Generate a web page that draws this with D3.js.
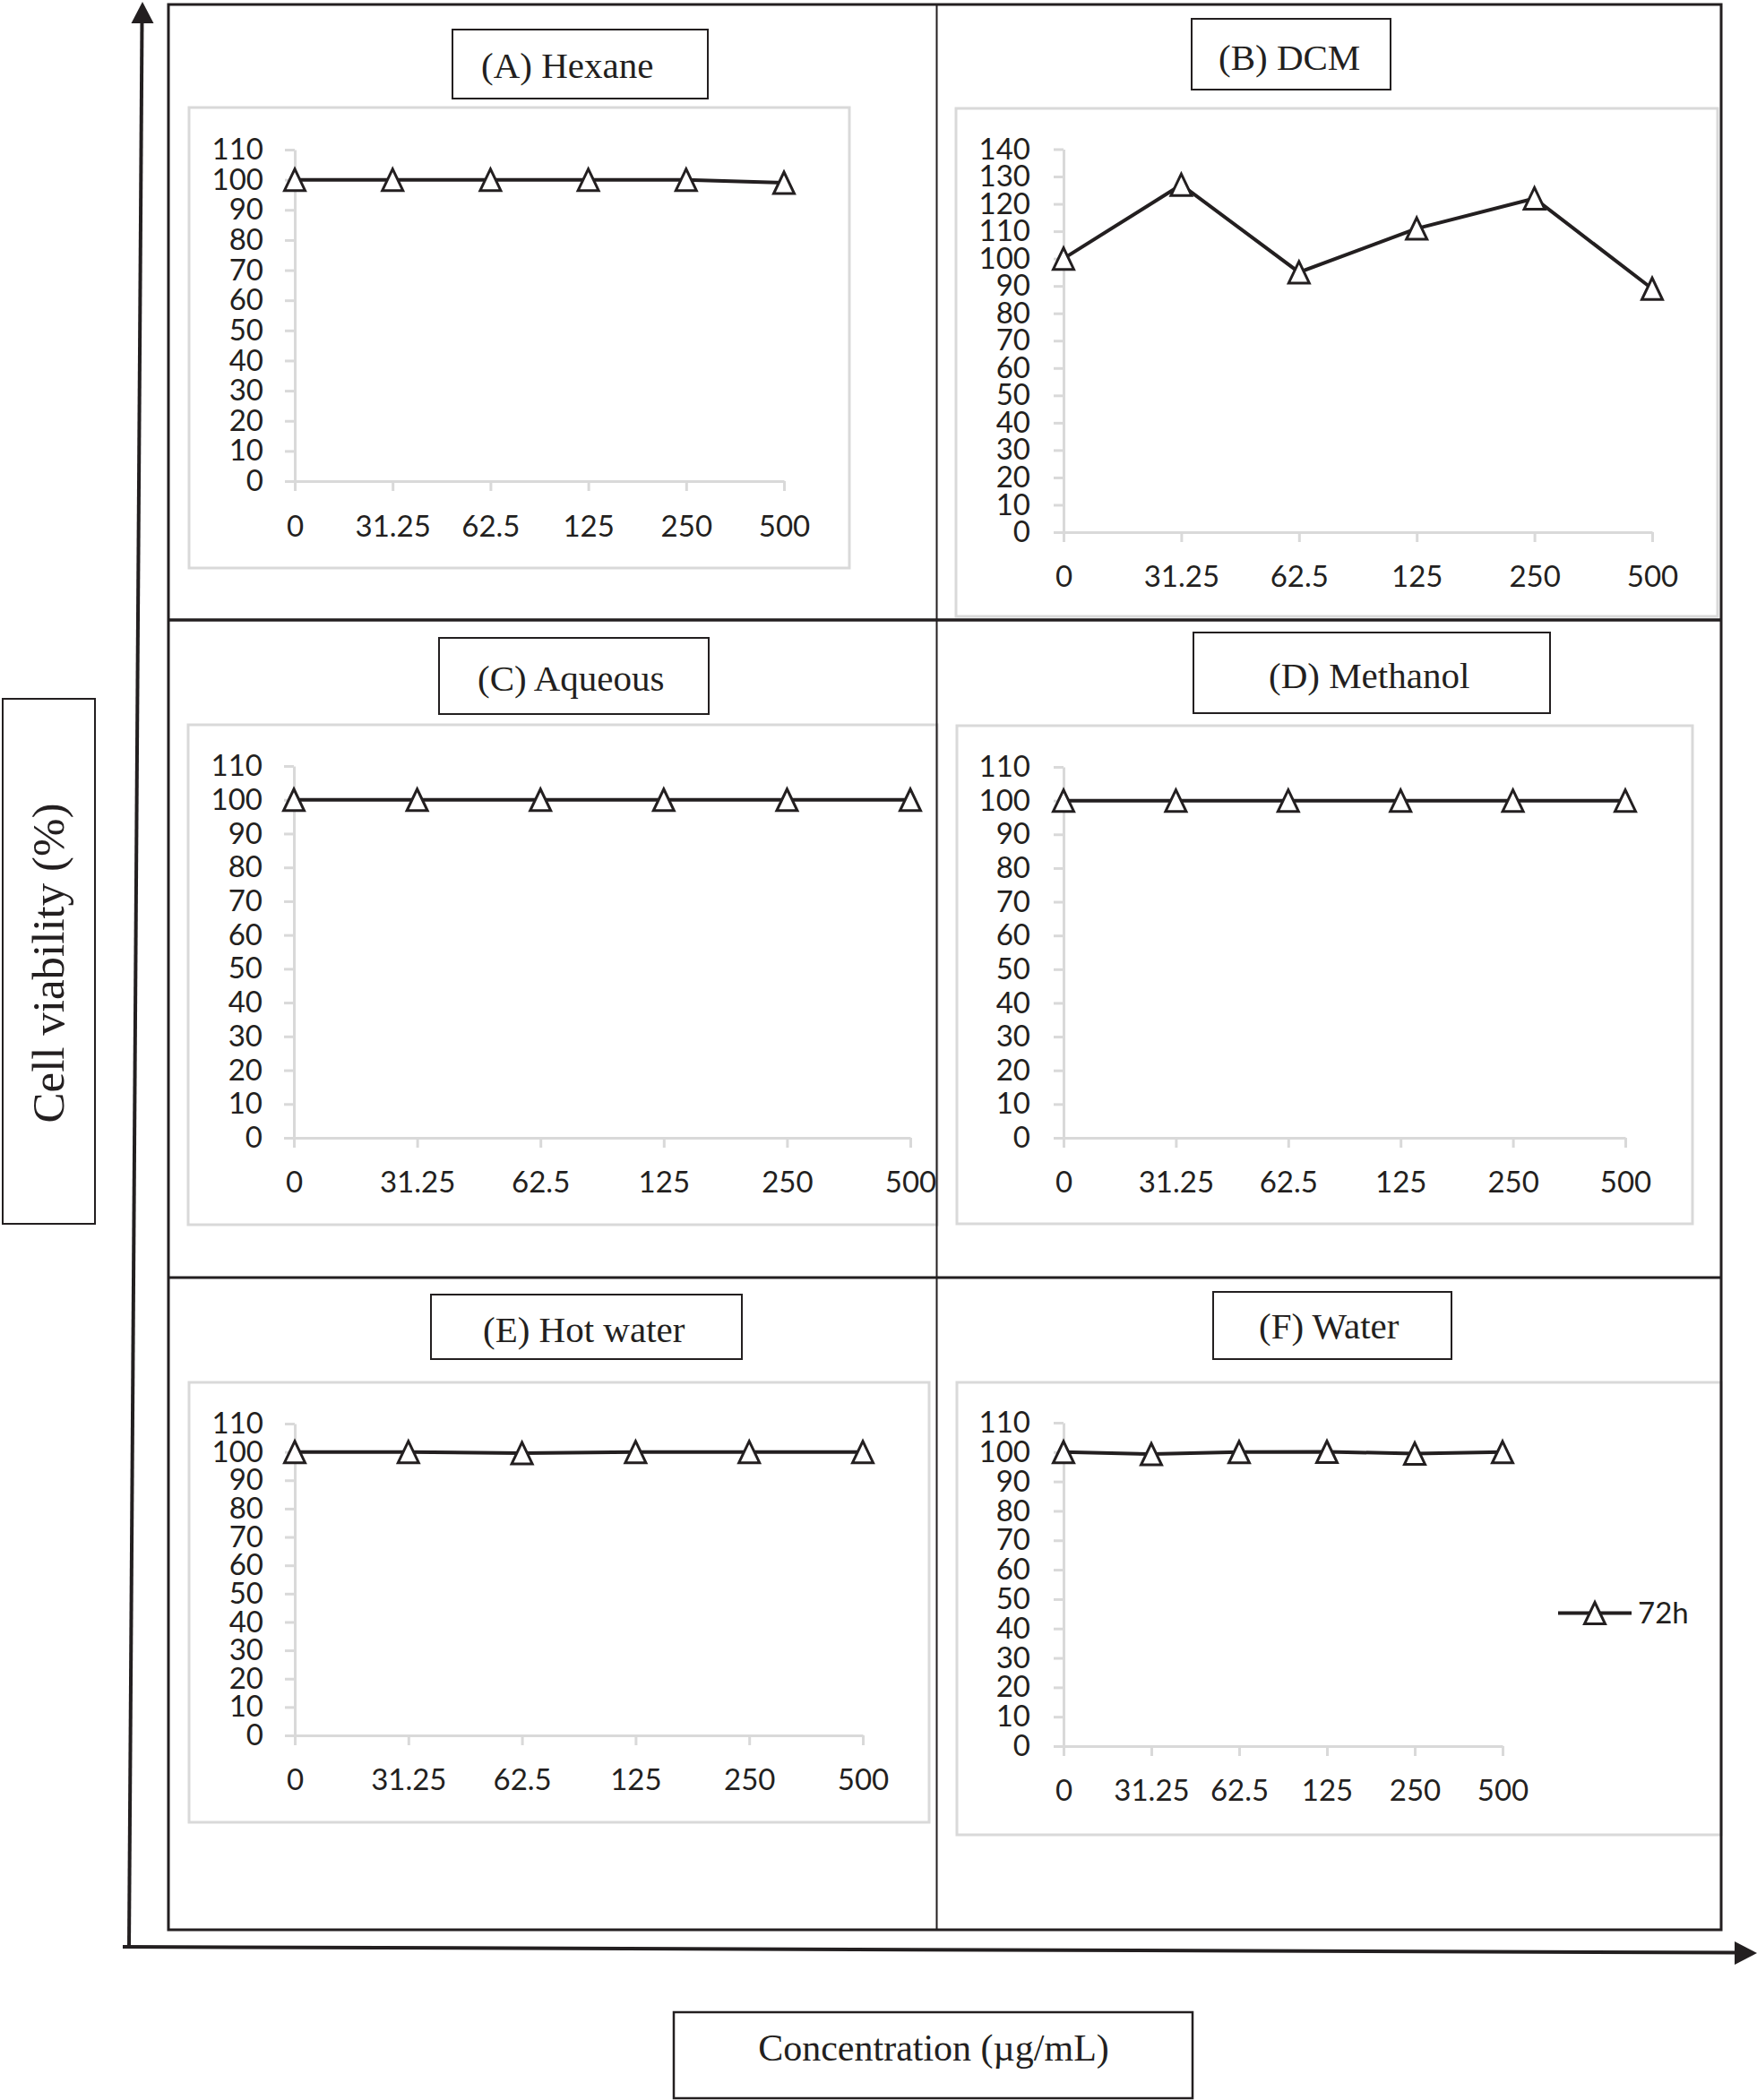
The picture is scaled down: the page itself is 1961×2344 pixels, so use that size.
<!DOCTYPE html>
<html>
<head>
<meta charset="utf-8">
<script src="https://cdn.jsdelivr.net/npm/d3@7"></script>
<style>
  html, body { margin: 0; padding: 0; background: #fff; }
  svg { display: block; }
</style>
</head>
<body>
<script>
// ---------------- DATA ----------------
const categories = ["0", "31.25", "62.5", "125", "250", "500"];
const hexane   = [100, 100, 100, 100, 100, 99];
const dcm      = [100, 127, 95, 111, 122, 89];
const aqueous  = [100, 100, 100, 100, 100, 100];
const methanol = [100, 100, 100, 100, 100, 100];
const hotWater = [100, 100, 99.6, 100, 100, 100];
const water    = [100, 99.3, 100, 100.1, 99.5, 100];
const panelTitles = ["(A) Hexane", "(B) DCM", "(C) Aqueous", "(D) Methanol", "(E) Hot water", "(F) Water"];
const yMaxes = [110, 140, 110, 110, 110, 110];
const legendLabel = "72h";
const yTitle = "Cell viability (%)";
const xTitle = "Concentration (\u00b5g/mL)";

const seriesList = [hexane, dcm, aqueous, methanol, hotWater, water];

// ---------------- LAYOUT ----------------
const layout = [
  { box: [211, 120, 948, 634],  x0: 329,  x1: 875,  y0: 537,  yTop: 167,   labelRight: 294,  labelY: 587,
    tbox: [505, 33, 790, 110],   tx: 537,  ty: 87 },
  { box: [1067, 121, 1917, 688], x0: 1187, x1: 1844, y0: 594,  yTop: 166.5, labelRight: 1150, labelY: 643,
    tbox: [1330, 21, 1552, 100], tx: 1360, ty: 78 },
  { box: [210, 809, 1046, 1367], x0: 328,  x1: 1016, y0: 1270, yTop: 855,   labelRight: 293,  labelY: 1319,
    tbox: [490, 712, 791, 797],  tx: 533,  ty: 771 },
  { box: [1068, 810, 1889, 1366], x0: 1187, x1: 1814, y0: 1270, yTop: 856,  labelRight: 1150, labelY: 1319,
    tbox: [1332, 706, 1730, 796], tx: 1416, ty: 768 },
  { box: [211, 1543, 1037, 2034], x0: 329,  x1: 963,  y0: 1937, yTop: 1589, labelRight: 294,  labelY: 1986,
    tbox: [481, 1445, 828, 1517], tx: 539,  ty: 1498 },
  { box: [1068, 1543, 1921, 2048], x0: 1187, x1: 1677, y0: 1949, yTop: 1588, labelRight: 1150, labelY: 1998,
    tbox: [1354, 1442, 1620, 1517], tx: 1405, ty: 1494,
    legend: { lx0: 1739, lx1: 1821, ly: 1800.5, mx: 1780, tx: 1828 } }
];

const INK = "#231f20";
const GRID = "#d9d9d9";
const tickFont = "Lato, 'Open Sans', sans-serif";
const tickSizePx = "33px";
const serifFont = "'Liberation Serif', 'Times New Roman', serif";

const svg = d3.select("body").append("svg")
  .attr("width", 1961).attr("height", 2344);
svg.append("rect").attr("width", 1961).attr("height", 2344).attr("fill", "#fff");

const triPath = "M0,-12 L11.5,12 L-11.5,12 Z";

// ---------------- PANELS ----------------
layout.forEach((L, i) => {
  const vals = seriesList[i];
  const g = svg.append("g");

  g.append("rect")
    .attr("x", L.box[0]).attr("y", L.box[1])
    .attr("width", L.box[2] - L.box[0]).attr("height", L.box[3] - L.box[1])
    .attr("fill", "#fff").attr("stroke", GRID).attr("stroke-width", 3);

  const x = d3.scalePoint().domain(categories).range([L.x0, L.x1]);
  const y = d3.scaleLinear().domain([0, yMaxes[i]]).range([L.y0, L.yTop]);

  const tickSize = 11;
  const yAxis = d3.axisLeft(y)
    .tickValues(d3.range(0, yMaxes[i] + 1, 10))
    .tickSize(tickSize).tickSizeOuter(0)
    .tickPadding(L.x0 - L.labelRight - tickSize);
  const ya = g.append("g").attr("transform", `translate(${L.x0},0)`).call(yAxis);

  const xAxis = d3.axisBottom(x).tickSize(tickSize).tickSizeOuter(0);
  const xa = g.append("g").attr("transform", `translate(0,${L.y0})`).call(xAxis);
  xa.selectAll(".tick text").attr("y", L.labelY - L.y0).attr("dy", "0.35em");

  [ya, xa].forEach(a => {
    a.select(".domain").attr("stroke", GRID).attr("stroke-width", 3);
    a.selectAll(".tick line").attr("stroke", GRID).attr("stroke-width", 3);
    a.selectAll(".tick text")
      .attr("fill", INK)
      .style("font-family", tickFont)
      .style("font-size", tickSizePx);
  });

  const pts = categories.map((c, k) => ({ c, v: vals[k] }));
  g.append("path")
    .datum(pts)
    .attr("fill", "none")
    .attr("stroke", INK).attr("stroke-width", 4)
    .attr("d", d3.line().x(d => x(d.c)).y(d => y(d.v)));

  g.selectAll("path.mk").data(pts).enter().append("path")
    .attr("class", "mk")
    .attr("d", triPath)
    .attr("transform", d => `translate(${x(d.c)},${y(d.v)})`)
    .attr("fill", "#fff").attr("stroke", INK).attr("stroke-width", 3);

  if (L.legend) {
    const lg = L.legend;
    g.append("line").attr("x1", lg.lx0).attr("x2", lg.lx1).attr("y1", lg.ly).attr("y2", lg.ly)
      .attr("stroke", INK).attr("stroke-width", 4);
    g.append("path").attr("d", triPath).attr("transform", `translate(${lg.mx},${lg.ly})`)
      .attr("fill", "#fff").attr("stroke", INK).attr("stroke-width", 3);
    g.append("text").attr("x", lg.tx).attr("y", lg.ly).attr("dy", "0.35em")
      .attr("fill", INK).style("font-family", tickFont).style("font-size", tickSizePx)
      .text(legendLabel);
  }
});

// ---------------- FRAME & DIVIDERS ----------------
svg.append("rect").attr("x", 188).attr("y", 5).attr("width", 1921 - 188).attr("height", 2154 - 5)
  .attr("fill", "none").attr("stroke", INK).attr("stroke-width", 3);
svg.append("line").attr("x1", 1045.5).attr("x2", 1045.5).attr("y1", 5).attr("y2", 2154)
  .attr("stroke", INK).attr("stroke-width", 2);
svg.append("line").attr("x1", 188).attr("x2", 1921).attr("y1", 692).attr("y2", 692)
  .attr("stroke", INK).attr("stroke-width", 3.5);
svg.append("line").attr("x1", 188).attr("x2", 1921).attr("y1", 1426).attr("y2", 1426)
  .attr("stroke", INK).attr("stroke-width", 3);

// ---------------- PANEL TITLES ----------------
layout.forEach((L, i) => {
  svg.append("rect")
    .attr("x", L.tbox[0]).attr("y", L.tbox[1])
    .attr("width", L.tbox[2] - L.tbox[0]).attr("height", L.tbox[3] - L.tbox[1])
    .attr("fill", "#fff").attr("stroke", INK).attr("stroke-width", 2);
  svg.append("text").attr("x", L.tx).attr("y", L.ty)
    .attr("fill", INK).style("font-family", serifFont).style("font-size", "41px")
    .text(panelTitles[i]);
});

// ---------------- AXIS ARROWS ----------------
svg.append("line").attr("x1", 144).attr("y1", 2174).attr("x2", 158.5).attr("y2", 22)
  .attr("stroke", INK).attr("stroke-width", 4);
svg.append("path").attr("d", "M159,2 L171.5,26 L146.5,26 Z").attr("fill", INK);
svg.append("line").attr("x1", 137).attr("y1", 2173).attr("x2", 1940).attr("y2", 2179.5)
  .attr("stroke", INK).attr("stroke-width", 4);
svg.append("path").attr("d", "M1961,2180 L1936,2167 L1936,2193 Z").attr("fill", INK);

// ---------------- AXIS TITLES ----------------
svg.append("rect").attr("x", 3).attr("y", 780).attr("width", 103).attr("height", 586)
  .attr("fill", "#fff").attr("stroke", INK).attr("stroke-width", 2);
svg.append("text")
  .attr("transform", "translate(71,1075) rotate(-90)")
  .attr("text-anchor", "middle")
  .attr("fill", INK).style("font-family", serifFont).style("font-size", "51px")
  .text(yTitle);

svg.append("rect").attr("x", 752).attr("y", 2246).attr("width", 579).attr("height", 96)
  .attr("fill", "#fff").attr("stroke", INK).attr("stroke-width", 2.5);
svg.append("text")
  .attr("x", 1042).attr("y", 2300).attr("text-anchor", "middle")
  .attr("fill", INK).style("font-family", serifFont).style("font-size", "42px")
  .text(xTitle);
</script>
</body>
</html>
